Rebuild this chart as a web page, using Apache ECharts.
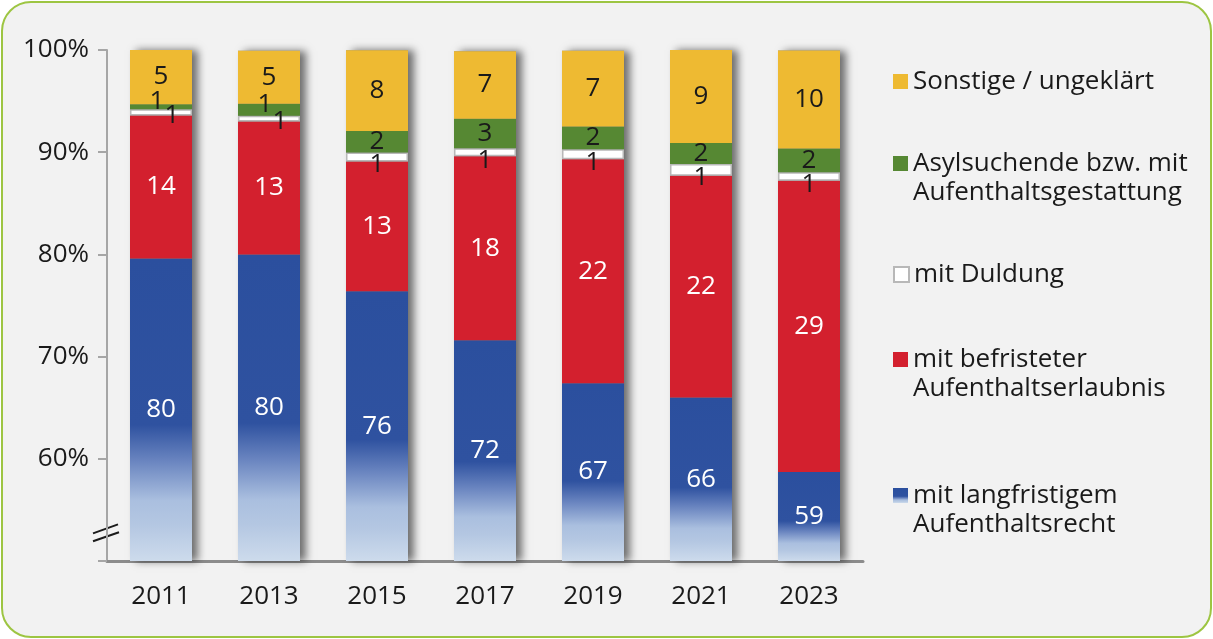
<!DOCTYPE html>
<html>
<head>
<meta charset="utf-8">
<title>Aufenthaltsstatus</title>
<script src="https://cdn.jsdelivr.net/npm/echarts@6/dist/echarts.min.js"></script>
<style>
html,body{margin:0;padding:0;background:#fff;}
#frame{position:absolute;left:1px;top:1px;width:1207px;height:633px;border:2px solid #9dc542;border-radius:30px;background:#f2f2f2;overflow:hidden;}
#chart{width:1207px;height:633px;}
</style>
</head>
<body>
<div id="frame"><div id="chart"></div></div>
<script>
// Anteile in %, von unten nach oben gestapelt
var years = ['2011', '2013', '2015', '2017', '2019', '2021', '2023'];
var langfristig = [79.6, 80.0, 76.4, 71.6, 67.4, 66.0, 58.7];
var befristet   = [14.0, 13.0, 12.7, 18.0, 21.9, 21.7, 28.5];
var duldung     = [0.6, 0.56, 0.88, 0.78, 0.98, 1.14, 0.85];
var asyl        = [0.5, 1.17, 2.1, 2.9, 2.24, 2.05, 2.3];
var sonstige    = [5.4, 5.2, 7.9, 6.6, 7.4, 9.1, 9.6];
var axisMin = 50;   // Achse unterbrochen, beginnt bei 50 %
var axisMax = 100;

var names = {
    lang: 'mit langfristigem\nAufenthaltsrecht',
    befr: 'mit befristeter\nAufenthaltserlaubnis',
    duld: 'mit Duldung',
    asyl: 'Asylsuchende bzw. mit\nAufenthaltsgestattung',
    sonst: 'Sonstige / ungeklärt'
};

var FONT = 'Open Sans';
var FS = 26;
var blueGrad = {
    type: 'linear', x: 0, y: 0, x2: 0, y2: 1,
    colorStops: [
        {offset: 0, color: '#2b4f9e'},
        {offset: 0.55, color: '#2f52a0'},
        {offset: 0.67, color: '#6a85c0'},
        {offset: 0.8, color: '#aabfdf'},
        {offset: 0.88, color: '#b4c7e2'},
        {offset: 1, color: '#cddbec'}
    ]
};

function lbl(arr, color) {
    return {
        show: true,
        position: 'inside',
        color: color,
        fontFamily: FONT,
        fontSize: FS,
        formatter: function (p) { return Math.round(arr[p.dataIndex]); }
    };
}

var totals = years.map(function (y, i) {
    return langfristig[i] + befristet[i] + duldung[i] + asyl[i] + sonstige[i];
});

// ein Legendenblock je Eintrag; bei zwei Zeilen sitzt das Kästchen an der ersten Zeile
function legend(name, top, twoLines) {
    return {
        data: [name],
        left: 890,
        top: top,
        orient: 'vertical',
        padding: 0,
        icon: 'rect',
        itemWidth: 15,
        itemHeight: 15,
        selectedMode: false,
        formatter: function (n) { return twoLines ? ' \n' + n : n; },
        textStyle: {fontFamily: FONT, fontSize: FS, color: '#1a1a1a', lineHeight: 29}
    };
}

var option = {
    backgroundColor: 'transparent',
    animation: false,
    grid: {left: 104, top: 47, width: 756, height: 511},
    legend: [
        legend(names.sonst, 64, false),
        legend(names.asyl, 117, true),
        legend(names.duld, 257, false),
        legend(names.befr, 313, true),
        legend(names.lang, 449, true)
    ],
    xAxis: {
        type: 'category',
        data: years,
        axisLine: {lineStyle: {color: '#8c8c8c', width: 3}},
        axisTick: {show: false},
        axisLabel: {fontFamily: FONT, fontSize: FS, color: '#1a1a1a', margin: 23}
    },
    yAxis: {
        type: 'value',
        min: axisMin,
        max: axisMax,
        interval: 10,
        axisLine: {show: true, lineStyle: {color: '#a6a6a6', width: 2}},
        axisTick: {show: true, length: 9, lineStyle: {color: '#a6a6a6', width: 2}},
        splitLine: {show: false},
        axisLabel: {
            fontFamily: FONT, fontSize: FS, color: '#1a1a1a', margin: 18,
            formatter: function (v) { return v === axisMin ? '' : v + '%'; }
        }
    },
    series: [
        {   // Schatten hinter dem ganzen Balken
            name: 'schatten', type: 'bar', z: 1, barWidth: 62, barGap: '-100%',
            silent: true, data: totals,
            itemStyle: {color: '#888', shadowColor: 'rgba(0,0,0,0.55)', shadowBlur: 8, shadowOffsetX: 6}
        },
        {   // unsichtbarer Sockel bis zur Achsenunterbrechung
            name: 'sockel', type: 'bar', stack: 'a', barWidth: 62, silent: true,
            data: years.map(function () { return axisMin; }),
            itemStyle: {color: 'transparent'}
        },
        {
            name: names.lang, type: 'bar', stack: 'a', barWidth: 62,
            data: langfristig.map(function (v) { return v - axisMin; }),
            itemStyle: {color: blueGrad},
            label: lbl(langfristig, '#fff')
        },
        {
            name: names.befr, type: 'bar', stack: 'a', barWidth: 62,
            data: befristet,
            itemStyle: {color: '#d3202e'},
            label: lbl(befristet, '#fff')
        },
        {
            name: names.duld, type: 'bar', stack: 'a', barWidth: 62,
            data: duldung.map(function (v, i) {
                return {value: v, label: {offset: asyl[i] < 1.5 ? [11, 3] : [0, 8]}};
            }),
            itemStyle: {color: '#ffffff', borderColor: '#b8b8b8', borderWidth: 1.5},
            label: lbl(duldung, '#1a1a1a')
        },
        {
            name: names.asyl, type: 'bar', stack: 'a', barWidth: 62,
            data: asyl.map(function (v, i) {
                return {value: v, label: {offset: v < 1.5 ? [-4, -5] : [0, 0]}};
            }),
            itemStyle: {color: '#568833'},
            label: lbl(asyl, '#1a1a1a')
        },
        {
            name: names.sonst, type: 'bar', stack: 'a', barWidth: 62,
            data: sonstige,
            itemStyle: {color: '#eeba32'},
            label: lbl(sonstige, '#1a1a1a')
        }
    ]
};

var chart = echarts.init(document.getElementById('chart'));
chart.setOption(option);

// Bruchzeichen "//" an der y-Achse
var yb = chart.convertToPixel({yAxisIndex: 0}, 53.1);
var ax = 104;
chart.setOption({
    graphic: [
        {type: 'line', shape: {x1: ax - 14, y1: yb + 4, x2: ax + 11, y2: yb - 5}, style: {stroke: '#1a1a1a', lineWidth: 2}},
        {type: 'line', shape: {x1: ax - 14, y1: yb + 12, x2: ax + 12, y2: yb + 3}, style: {stroke: '#1a1a1a', lineWidth: 2}}
    ]
});
</script>
</body>
</html>
